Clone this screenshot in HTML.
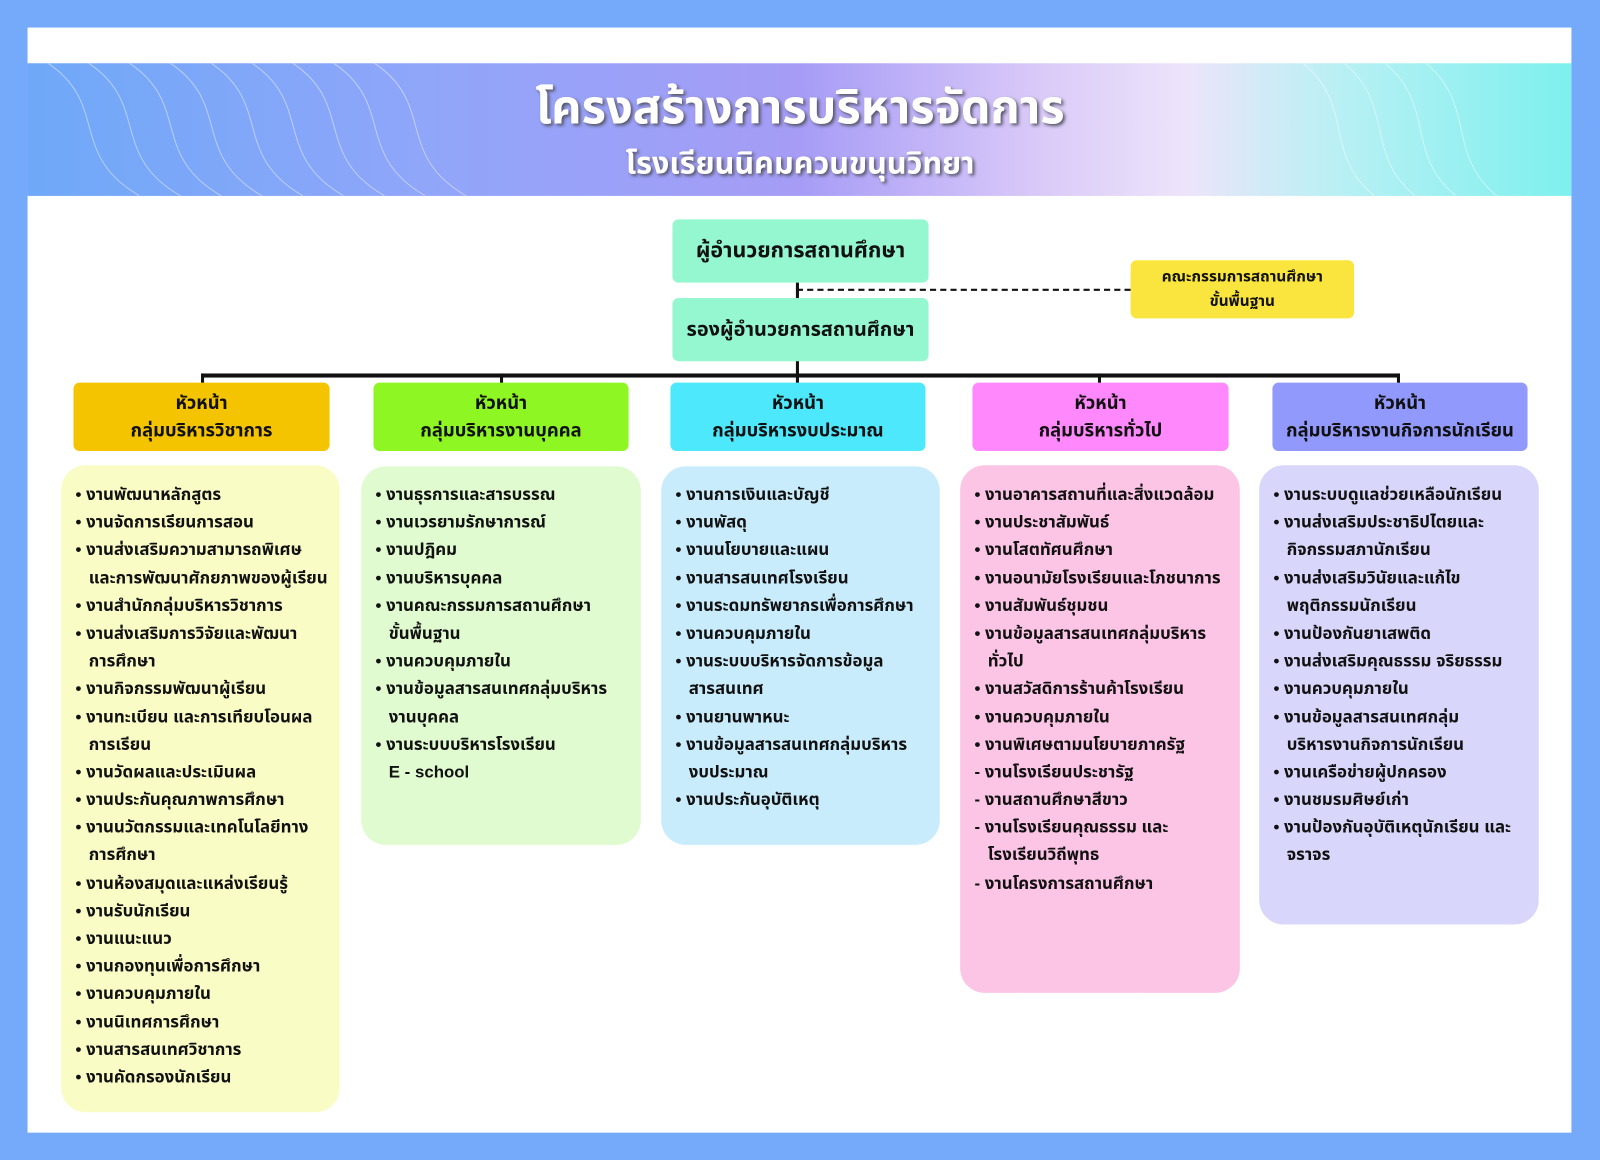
<!DOCTYPE html>
<html><head><meta charset="utf-8">
<style>
html,body{margin:0;padding:0;width:1600px;height:1160px;overflow:hidden;background:#74aaf9;}
#w{position:absolute;left:0;top:0;width:1568px;height:1137px;transform:scale(1.0204);transform-origin:0 0;font-family:"Liberation Sans","Noto Sans Thai","Loma","Garuda","Tlwg Typo","Noto Sans CJK SC",sans-serif;}
.a{position:absolute;}
.panel{left:27px;top:27px;width:1513px;height:1083px;background:#fff;}
.banner{left:27px;top:62px;width:1513px;height:130px;background:linear-gradient(90deg,#6fa8f8 0%,#8fa6f9 25%,#a69cf6 50%,#d8c8f8 65%,#ede4fa 75%,#b8f0f4 85%,#7ef0ee 100%);overflow:hidden;}
.t1{left:0;width:1568px;top:72px;text-align:center;color:#fff;font-size:46px;font-weight:bold;text-shadow:2px 2px 3px #556;}
.t2{left:0;width:1568px;top:138px;text-align:center;color:#fff;font-size:30px;font-weight:bold;text-shadow:2px 2px 3px #556;}
.box{display:flex;align-items:center;justify-content:center;text-align:center;border-radius:6px;font-weight:bold;color:#111;white-space:nowrap;}
.mint{background:#94f7d0;font-size:21px;}
.head{font-size:18px;line-height:27px;flex-direction:column;border-radius:6px;}
.ln{background:#111;}
.list{border-radius:24px;font-size:16.5px;color:#111;font-weight:bold;}
.list div{height:27.2px;line-height:27.2px;white-space:nowrap;padding-left:14px;}
.list div.c{padding-left:27px;}
</style></head><body>
<div id="w">
<div class="a panel"></div>
<div class="a banner">
<svg width="1513" height="130" style="position:absolute;left:0;top:0" fill="none" stroke="#fff" stroke-opacity="0.45" stroke-width="1">
<path d="M20 0 C80 40 40 90 110 130"/><path d="M60 0 C120 40 80 90 150 130"/><path d="M100 0 C160 40 120 90 190 130"/><path d="M140 0 C200 40 160 90 230 130"/><path d="M180 0 C240 40 200 90 270 130"/><path d="M220 0 C280 40 240 90 310 130"/><path d="M260 0 C320 40 280 90 350 130"/><path d="M300 0 C360 40 320 90 390 130"/><path d="M340 0 C400 40 360 90 430 130"/>
<path d="M1250 0 C1300 40 1270 90 1320 130"/><path d="M1290 0 C1340 40 1310 90 1360 130"/><path d="M1330 0 C1380 40 1350 90 1400 130"/><path d="M1370 0 C1420 40 1390 90 1440 130"/>
</svg>
</div>
<div class="a t1">โครงสร้างการบริหารจัดการ</div>
<div class="a t2">โรงเรียนนิคมควนขนุนวิทยา</div>

<div class="a box mint" style="left:659px;top:215px;width:251px;height:62px;">ผู้อำนวยการสถานศึกษา</div>
<div class="a box mint" style="left:659px;top:292px;width:251px;height:62px;font-size:19.5px;">รองผู้อำนวยการสถานศึกษา</div>
<div class="a box" style="left:1108px;top:255px;width:219px;height:57px;background:#f9e53e;font-size:15px;line-height:24px;">คณะกรรมการสถานศึกษา<br>ขั้นพื้นฐาน</div>
<div class="a" style="left:781px;top:283px;width:327px;border-top:2px dashed #111;"></div>
<div class="a ln" style="left:780px;top:277px;width:3px;height:15px;"></div>
<div class="a ln" style="left:780px;top:354px;width:3px;height:14px;"></div>
<div class="a ln" style="left:197px;top:366px;width:1175px;height:4px;"></div>
<div class="a ln" style="left:197px;top:366px;width:3px;height:10px;"></div>
<div class="a ln" style="left:490px;top:366px;width:3px;height:10px;"></div>
<div class="a ln" style="left:780px;top:366px;width:3px;height:10px;"></div>
<div class="a ln" style="left:1076px;top:366px;width:3px;height:10px;"></div>
<div class="a ln" style="left:1369px;top:366px;width:3px;height:10px;"></div>

<div class="a box head" style="left:72px;top:375px;width:251px;height:67px;background:#f5c400;"><span>หัวหน้า</span><span>กลุ่มบริหารวิชาการ</span></div>
<div class="a box head" style="left:366px;top:375px;width:250px;height:67px;background:#8ef723;"><span>หัวหน้า</span><span>กลุ่มบริหารงานบุคคล</span></div>
<div class="a box head" style="left:657px;top:375px;width:250px;height:67px;background:#4de8fc;"><span>หัวหน้า</span><span>กลุ่มบริหารงบประมาณ</span></div>
<div class="a box head" style="left:953px;top:375px;width:251px;height:67px;background:#ff88fc;"><span>หัวหน้า</span><span>กลุ่มบริหารทั่วไป</span></div>
<div class="a box head" style="left:1247px;top:375px;width:250px;height:67px;background:#9199fc;"><span>หัวหน้า</span><span>กลุ่มบริหารงานกิจการนักเรียน</span></div>

<div class="a list" style="left:60px;top:456px;width:273px;height:634px;background:#fafcc6;padding-top:16px;box-sizing:border-box;">
<div>• งานพัฒนาหลักสูตร</div><div>• งานจัดการเรียนการสอน</div><div>• งานส่งเสริมความสามารถพิเศษ</div><div class="c">และการพัฒนาศักยภาพของผู้เรียน</div><div>• งานสำนักกลุ่มบริหารวิชาการ</div><div>• งานส่งเสริมการวิจัยและพัฒนา</div><div class="c">การศึกษา</div><div>• งานกิจกรรมพัฒนาผู้เรียน</div><div>• งานทะเบียน และการเทียบโอนผล</div><div class="c">การเรียน</div><div>• งานวัดผลและประเมินผล</div><div>• งานประกันคุณภาพการศึกษา</div><div>• งานนวัตกรรมและเทคโนโลยีทาง</div><div class="c">การศึกษา</div><div>• งานห้องสมุดและแหล่งเรียนรู้</div><div>• งานรับนักเรียน</div><div>• งานแนะแนว</div><div>• งานกองทุนเพื่อการศึกษา</div><div>• งานควบคุมภายใน</div><div>• งานนิเทศการศึกษา</div><div>• งานสารสนเทศวิชาการ</div><div>• งานคัดกรองนักเรียน</div>
</div>
<div class="a list" style="left:354px;top:457px;width:274px;height:371px;background:#e0fbd0;padding-top:15px;box-sizing:border-box;">
<div>• งานธุรการและสารบรรณ</div><div>• งานเวรยามรักษาการณ์</div><div>• งานปฎิคม</div><div>• งานบริหารบุคคล</div><div>• งานคณะกรรมการสถานศึกษา</div><div class="c">ขั้นพื้นฐาน</div><div>• งานควบคุมภายใน</div><div>• งานข้อมูลสารสนเทศกลุ่มบริหาร</div><div class="c">งานบุคคล</div><div>• งานระบบบริหารโรงเรียน</div><div class="c">E - school</div>
</div>
<div class="a list" style="left:648px;top:457px;width:273px;height:371px;background:#c9ecfc;padding-top:15px;box-sizing:border-box;">
<div>• งานการเงินและบัญชี</div><div>• งานพัสดุ</div><div>• งานนโยบายและแผน</div><div>• งานสารสนเทศโรงเรียน</div><div>• งานระดมทรัพยากรเพื่อการศึกษา</div><div>• งานควบคุมภายใน</div><div>• งานระบบบริหารจัดการข้อมูล</div><div class="c">สารสนเทศ</div><div>• งานยานพาหนะ</div><div>• งานข้อมูลสารสนเทศกลุ่มบริหาร</div><div class="c">งบประมาณ</div><div>• งานประกันอุบัติเหตุ</div>
</div>
<div class="a list" style="left:941px;top:456px;width:274px;height:517px;background:#fcc4e5;padding-top:16px;box-sizing:border-box;">
<div>• งานอาคารสถานที่และสิ่งแวดล้อม</div><div>• งานประชาสัมพันธ์</div><div>• งานโสตทัศนศึกษา</div><div>• งานอนามัยโรงเรียนและโภชนาการ</div><div>• งานสัมพันธ์ชุมชน</div><div>• งานข้อมูลสารสนเทศกลุ่มบริหาร</div><div class="c">ทั่วไป</div><div>• งานสวัสดิการร้านค้าโรงเรียน</div><div>• งานควบคุมภายใน</div><div>• งานพิเศษตามนโยบายภาครัฐ</div><div>- งานโรงเรียนประชารัฐ</div><div>- งานสถานศึกษาสีขาว</div><div>- งานโรงเรียนคุณธรรม และ</div><div class="c">โรงเรียนวิถีพุทธ</div><div>- งานโครงการสถานศึกษา</div>
</div>
<div class="a list" style="left:1234px;top:456px;width:274px;height:450px;background:#d8d6fa;padding-top:16px;box-sizing:border-box;">
<div>• งานระบบดูแลช่วยเหลือนักเรียน</div><div>• งานส่งเสริมประชาธิปไตยและ</div><div class="c">กิจกรรมสภานักเรียน</div><div>• งานส่งเสริมวินัยและแก้ไข</div><div class="c">พฤติกรรมนักเรียน</div><div>• งานป้องกันยาเสพติด</div><div>• งานส่งเสริมคุณธรรม จริยธรรม</div><div>• งานควบคุมภายใน</div><div>• งานข้อมูลสารสนเทศกลุ่ม</div><div class="c">บริหารงานกิจการนักเรียน</div><div>• งานเครือข่ายผู้ปกครอง</div><div>• งานชมรมศิษย์เก่า</div><div>• งานป้องกันอุบัติเหตุนักเรียน และ</div><div class="c">จราจร</div>
</div>
</div>
</body></html>
